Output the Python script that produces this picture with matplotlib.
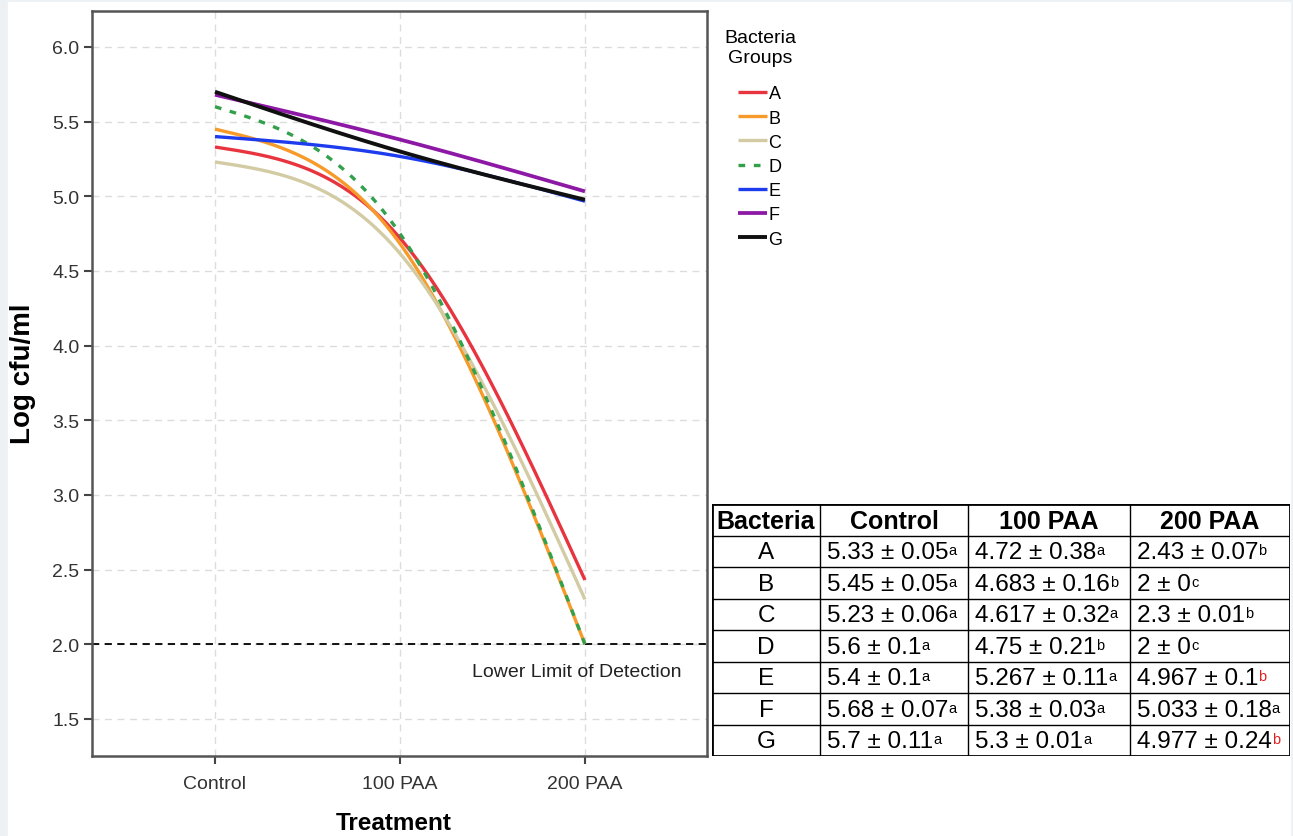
import matplotlib
matplotlib.use('Agg')
import matplotlib.pyplot as plt
from matplotlib.patches import Rectangle
import numpy as np

plt.rcParams['font.family'] = ['Liberation Sans', 'DejaVu Sans']

treatments = ['Control', '100 PAA', '200 PAA']
bacteria = ['A', 'B', 'C', 'D', 'E', 'F', 'G']

control = [5.33, 5.45, 5.23, 5.6, 5.4, 5.68, 5.7]
control_sd = [0.05, 0.05, 0.06, 0.1, 0.1, 0.07, 0.11]
control_sig = ['a', 'a', 'a', 'a', 'a', 'a', 'a']

paa100 = [4.72, 4.683, 4.617, 4.75, 5.267, 5.38, 5.3]
paa100_sd = [0.38, 0.16, 0.32, 0.21, 0.11, 0.03, 0.01]
paa100_sig = ['a', 'b', 'a', 'b', 'a', 'a', 'a']

paa200 = [2.43, 2, 2.3, 2, 4.967, 5.033, 4.977]
paa200_sd = [0.07, 0, 0.01, 0, 0.1, 0.18, 0.24]
paa200_sig = ['b', 'c', 'b', 'c', 'b', 'a', 'b']
paa200_sig_red = [False, False, False, False, True, False, True]

detection_limit = 2.0

colors = ['#e8343e', '#f79a2a', '#d3cba3', '#33a04c', '#1c3cee', '#8e18a6', '#101010']
widths = [2.4, 2.4, 2.4, 2.4, 2.4, 2.7, 2.8]


def natural_spline(x, y, xs):
    # natural cubic spline through the points (same smoothing as the SPSS chart)
    x = np.asarray(x, float)
    y = np.asarray(y, float)
    n = len(x)
    h = np.diff(x)
    A = np.zeros((n, n))
    rhs = np.zeros(n)
    A[0, 0] = A[-1, -1] = 1
    for i in range(1, n - 1):
        A[i, i - 1] = h[i - 1]
        A[i, i] = 2 * (h[i - 1] + h[i])
        A[i, i + 1] = h[i]
        rhs[i] = 6 * ((y[i + 1] - y[i]) / h[i] - (y[i] - y[i - 1]) / h[i - 1])
    M = np.linalg.solve(A, rhs)
    idx = np.clip(np.searchsorted(x, xs) - 1, 0, n - 2)
    x0, x1 = x[idx], x[idx + 1]
    hh = x1 - x0
    a = (x1 - xs) / hh
    b = (xs - x0) / hh
    return a * y[idx] + b * y[idx + 1] + ((a**3 - a) * M[idx] + (b**3 - b) * M[idx + 1]) * hh**2 / 6


W, H = 1293, 837
fig = plt.figure(figsize=(W / 100, H / 100), dpi=100, facecolor='#edf1f3')
fig.patches.append(Rectangle((8 / W, 0), (W - 11) / W, (H - 3) / H,
                             transform=fig.transFigure, color='white', zorder=-10))

ax = fig.add_axes([92 / W, 80 / H, 615 / W, 745 / H])
xpos = np.arange(len(treatments))
xs = np.linspace(0, 2, 300)
for i, name in enumerate(bacteria):
    ys = [control[i], paa100[i], paa200[i]]
    ls = (0, (2, 2.6)) if name == 'D' else '-'
    ax.plot(xs, natural_spline(xpos, ys, xs), color=colors[i], lw=widths[i], ls=ls,
            label=name, solid_capstyle='butt', zorder=3)

ax.axhline(detection_limit, color='black', ls=(0, (4, 3)), lw=1.3, zorder=2)
ax.text(2.524, 1.82, 'Lower Limit of Detection', ha='right', va='center',
        fontsize=14, color='#222222')

ax.set_xlim(-0.665, 2.66)
ax.set_ylim(1.251, 6.241)
ax.set_xticks(xpos)
ax.set_xticklabels(treatments)
ax.set_yticks(np.arange(1.5, 6.01, 0.5))
ax.set_yticklabels([f'{v:.1f}' for v in np.arange(1.5, 6.01, 0.5)])
ax.tick_params(labelsize=14, labelcolor='#333333', length=6, width=1.5,
               color='#444444', pad=3)
ax.tick_params(axis='x', pad=8)
ax.grid(color='#dcdcdc', ls=(0, (5, 4)), lw=1, zorder=0)
for s in ax.spines.values():
    s.set_color('#555555')
    s.set_linewidth(1.8)

ax.set_xlabel('Treatment', fontsize=17.5, fontweight='bold')
ax.set_ylabel('Log cfu/ml', fontsize=20, fontweight='bold')
ax.xaxis.set_label_coords(0.49, -0.074)
ax.yaxis.set_label_coords(-0.091, 0.515)

leg = ax.legend(loc='upper left', bbox_to_anchor=(708 / W, 1 - 14 / H),
                bbox_transform=fig.transFigure, frameon=False,
                title='Bacteria\nGroups', fontsize=13, title_fontsize=14,
                handlelength=1.6, handletextpad=0.1, labelspacing=0.4)
leg.get_title().set_multialignment('center')
leg._legend_box.sep = 14

# table
tx = fig.add_axes([712 / W, 80 / H, 578 / W, 252 / H])
tx.set_xlim(0, 578)
tx.set_ylim(252, 0)
tx.axis('off')
col_edges = [0, 108, 256, 418, 578]
row_h = 252 / 8
tx.add_patch(Rectangle((0, 0), 578, 252, fc='white', ec='black', lw=2, zorder=1))
for x in col_edges[1:-1]:
    tx.plot([x, x], [0, 252], color='black', lw=1, zorder=2)
for r in range(1, 8):
    tx.plot([0, 578], [r * row_h, r * row_h], color='black', lw=1, zorder=2)

headers = ['Bacteria'] + treatments
for c, h in enumerate(headers):
    tx.text((col_edges[c] + col_edges[c + 1]) / 2, row_h / 2 + 1, h,
            ha='center', va='center', fontsize=18, fontweight='bold', zorder=3)

cols = [(control, control_sd, control_sig), (paa100, paa100_sd, paa100_sig),
        (paa200, paa200_sd, paa200_sig)]
for r, name in enumerate(bacteria):
    yc = (r + 1.5) * row_h + 1
    tx.text(54, yc, name, ha='center', va='center', fontsize=17.5, zorder=3)
    for c, (m, sd, sig) in enumerate(cols):
        t = tx.text(col_edges[c + 1] + 7, yc, f'{m[r]:g} ± {sd[r]:g}',
                    ha='left', va='center', fontsize=17.5, zorder=3)
        red = c == 2 and paa200_sig_red[r]
        tx.annotate(sig[r], xy=(1.0, 0.9), xycoords=t, ha='left', va='top',
                    fontsize=10.5, color='#e02020' if red else 'black', zorder=3)

fig.savefig('out.png', dpi=100, facecolor=fig.get_facecolor())
